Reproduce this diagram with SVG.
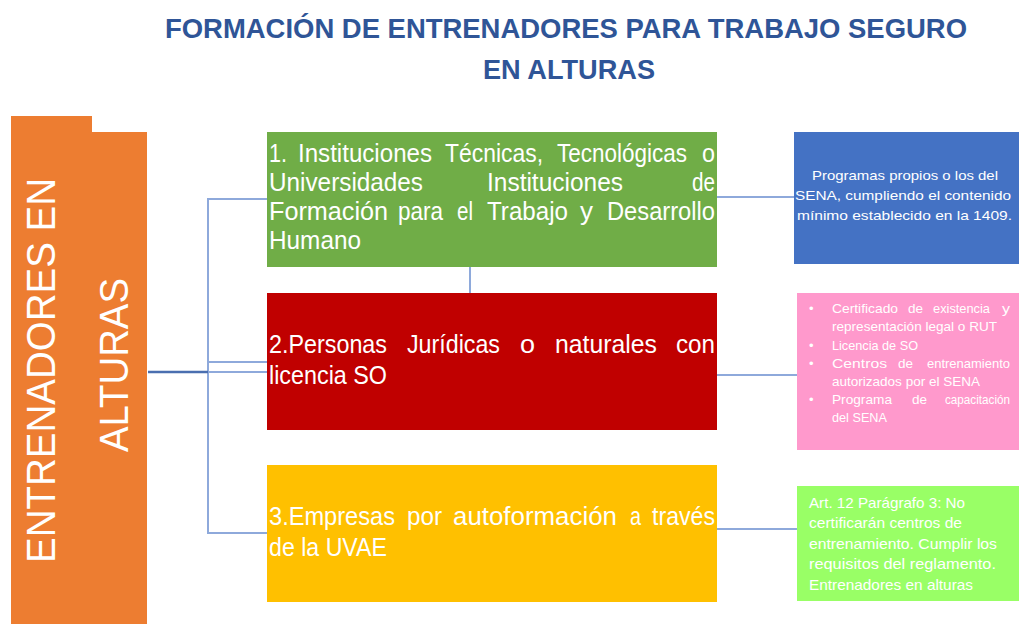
<svg xmlns="http://www.w3.org/2000/svg" width="1019" height="624" viewBox="0 0 1019 624">
<style>
.t{font-family:"Liberation Sans",Arial,sans-serif;}
.title{font-size:28px;font-weight:bold;fill:#2F5597;}
.big{font-size:25px;fill:#FFFFFF;}
.sm{font-size:13px;fill:#FFFFFF;}
.lm{font-size:14.5px;fill:#FFFFFF;}
.side{font-size:40px;fill:#FFFFFF;}
.c{fill:none;stroke:#8EA9DB;stroke-width:2;}
.cm{fill:none;stroke:#4A6FB0;stroke-width:2.5;}
</style>
<rect width="1019" height="624" fill="#FFFFFF"/>
<g id="title" class="t title">
<text x="165" y="38" textLength="802" lengthAdjust="spacingAndGlyphs">FORMACIÓN DE ENTRENADORES PARA TRABAJO SEGURO</text>
<text x="483" y="79" textLength="172" lengthAdjust="spacingAndGlyphs">EN ALTURAS</text>
</g>
<g id="connectors">
<path class="c" d="M267,199 H208 V533 H267"/>
<path class="c" d="M208,362 H267"/>
<path class="c" d="M208,372 H267"/>
<path class="cm" d="M148,372 H208"/>
<path class="c" d="M470,267 V293"/>
<path class="c" d="M717,197 H794"/>
<path class="c" d="M717,375 H797"/>
<path class="c" d="M717,529 H797"/>
</g>
<g id="entrenadores">
<polygon points="11,116 92,116 92,132 147,132 147,624 11,624" fill="#ED7D31"/>
<text class="t side" transform="translate(55,563) rotate(-90)" textLength="385" lengthAdjust="spacingAndGlyphs">ENTRENADORES EN</text>
<text class="t side" transform="translate(128,452) rotate(-90)" textLength="174" lengthAdjust="spacingAndGlyphs">ALTURAS</text>
</g>
<g id="n1">
<rect x="267" y="132" width="450" height="135" fill="#70AD47"/>
<text class="t big" y="162">
<tspan x="269" textLength="18" lengthAdjust="spacingAndGlyphs">1.</tspan><tspan x="298" textLength="134" lengthAdjust="spacingAndGlyphs">Instituciones</tspan><tspan x="445" textLength="98" lengthAdjust="spacingAndGlyphs">Técnicas,</tspan><tspan x="557" textLength="130" lengthAdjust="spacingAndGlyphs">Tecnológicas</tspan><tspan x="702" textLength="13" lengthAdjust="spacingAndGlyphs">o</tspan>
</text>
<text class="t big" y="191">
<tspan x="269" textLength="154" lengthAdjust="spacingAndGlyphs">Universidades</tspan><tspan x="487" textLength="136" lengthAdjust="spacingAndGlyphs">Instituciones</tspan><tspan x="692" textLength="23" lengthAdjust="spacingAndGlyphs">de</tspan>
</text>
<text class="t big" y="220">
<tspan x="269" textLength="119" lengthAdjust="spacingAndGlyphs">Formación</tspan><tspan x="398" textLength="45" lengthAdjust="spacingAndGlyphs">para</tspan><tspan x="457" textLength="16" lengthAdjust="spacingAndGlyphs">el</tspan><tspan x="487" textLength="81" lengthAdjust="spacingAndGlyphs">Trabajo</tspan><tspan x="580" textLength="13" lengthAdjust="spacingAndGlyphs">y</tspan><tspan x="607" textLength="108" lengthAdjust="spacingAndGlyphs">Desarrollo</tspan>
</text>
<text class="t big" x="269" y="249" textLength="92" lengthAdjust="spacingAndGlyphs">Humano</text>
</g>
<g id="n2">
<rect x="267" y="293" width="450" height="137" fill="#C00000"/>
<text class="t big" y="353">
<tspan x="269" textLength="118" lengthAdjust="spacingAndGlyphs">2.Personas</tspan><tspan x="407" textLength="93" lengthAdjust="spacingAndGlyphs">Jurídicas</tspan><tspan x="520" textLength="15" lengthAdjust="spacingAndGlyphs">o</tspan><tspan x="555" textLength="102" lengthAdjust="spacingAndGlyphs">naturales</tspan><tspan x="676" textLength="39" lengthAdjust="spacingAndGlyphs">con</tspan>
</text>
<text class="t big" x="269" y="384" textLength="118" lengthAdjust="spacingAndGlyphs">licencia SO</text>
</g>
<g id="n3">
<rect x="267" y="465" width="450" height="137" fill="#FFC000"/>
<text class="t big" y="525">
<tspan x="269" textLength="126" lengthAdjust="spacingAndGlyphs">3.Empresas</tspan><tspan x="407" textLength="35" lengthAdjust="spacingAndGlyphs">por</tspan><tspan x="453" textLength="164" lengthAdjust="spacingAndGlyphs">autoformación</tspan><tspan x="630" textLength="11" lengthAdjust="spacingAndGlyphs">a</tspan><tspan x="652" textLength="63" lengthAdjust="spacingAndGlyphs">través</tspan>
</text>
<text class="t big" x="269" y="556" textLength="118" lengthAdjust="spacingAndGlyphs">de la UVAE</text>
</g>
<g id="d1">
<rect x="794" y="132" width="225" height="132" fill="#4472C4"/>
<text class="t sm" x="812" y="180" textLength="186" lengthAdjust="spacingAndGlyphs">Programas propios o los del</text>
<text class="t sm" x="795" y="200" textLength="216" lengthAdjust="spacingAndGlyphs">SENA, cumpliendo el contenido</text>
<text class="t sm" x="797" y="220" textLength="215" lengthAdjust="spacingAndGlyphs">mínimo establecido en la 1409.</text>
</g>
<g id="d2">
<rect x="797" y="293" width="222" height="157" fill="#FF99CC"/>
<g class="t sm" fill="#FFE8F3">
<text x="809" y="313">•</text>
<text x="809" y="350">•</text>
<text x="809" y="368">•</text>
<text x="809" y="404">•</text>
<text y="313"><tspan x="832" textLength="66" lengthAdjust="spacingAndGlyphs">Certificado</tspan><tspan x="908" textLength="15" lengthAdjust="spacingAndGlyphs">de</tspan><tspan x="933" textLength="57" lengthAdjust="spacingAndGlyphs">existencia</tspan><tspan x="1002" textLength="8" lengthAdjust="spacingAndGlyphs">y</tspan></text>
<text x="832" y="331" textLength="165" lengthAdjust="spacingAndGlyphs">representación legal o RUT</text>
<text x="832" y="350" textLength="86" lengthAdjust="spacingAndGlyphs">Licencia de SO</text>
<text y="368"><tspan x="832" textLength="55" lengthAdjust="spacingAndGlyphs">Centros</tspan><tspan x="898" textLength="15" lengthAdjust="spacingAndGlyphs">de</tspan><tspan x="927" textLength="83" lengthAdjust="spacingAndGlyphs">entrenamiento</tspan></text>
<text x="832" y="386" textLength="148" lengthAdjust="spacingAndGlyphs">autorizados por el SENA</text>
<text y="404"><tspan x="832" textLength="60" lengthAdjust="spacingAndGlyphs">Programa</tspan><tspan x="912" textLength="15" lengthAdjust="spacingAndGlyphs">de</tspan><tspan x="945" textLength="65" lengthAdjust="spacingAndGlyphs">capacitación</tspan></text>
<text x="832" y="422" textLength="55" lengthAdjust="spacingAndGlyphs">del SENA</text>
</g>
</g>
<g id="d3">
<rect x="797" y="486" width="222" height="115" fill="#99FF66"/>
<g class="t lm" fill="#F4FFEE">
<text x="809" y="508" textLength="156" lengthAdjust="spacingAndGlyphs">Art. 12 Parágrafo 3: No</text>
<text x="809" y="528" textLength="153" lengthAdjust="spacingAndGlyphs">certificarán centros de</text>
<text x="809" y="549" textLength="188" lengthAdjust="spacingAndGlyphs">entrenamiento. Cumplir los</text>
<text x="809" y="569" textLength="187" lengthAdjust="spacingAndGlyphs">requisitos del reglamento.</text>
<text x="809" y="590" textLength="164" lengthAdjust="spacingAndGlyphs">Entrenadores en alturas</text>
</g>
</g>
</svg>
